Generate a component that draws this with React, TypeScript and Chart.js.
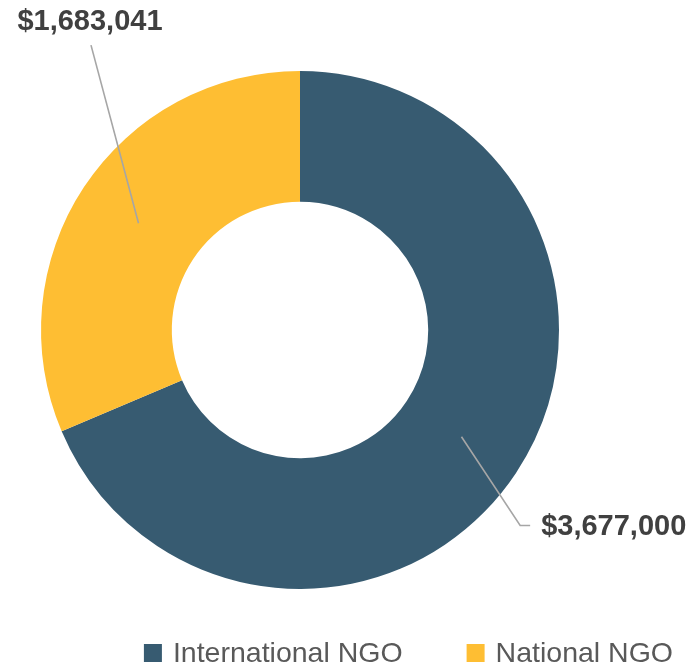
import React, { useEffect, useRef } from "react";
import { Chart, registerables } from "chart.js";

Chart.register(...registerables);

const categories = ["International NGO", "National NGO"];
const values = [3677000, 1683041];
const valueLabels = ["$3,677,000", "$1,683,041"];
const colors = ["#375B71", "#FEBE33"];

const LABEL_FONT = "bold 29px 'Liberation Sans', Arial, sans-serif";
const LEGEND_FONT = "28.5px 'Liberation Sans', Arial, sans-serif";

const leaderPlugin = {
  id: "leaderLabels",
  afterDatasetsDraw(chart: any) {
    const ctx = chart.ctx;
    const meta = chart.getDatasetMeta(0);
    ctx.save();
    meta.data.forEach((arc: any, i: number) => {
      const p = arc.getProps(["x", "y", "startAngle", "endAngle", "innerRadius", "outerRadius"], true);
      const mid = (p.startAngle + p.endAngle) / 2;
      const r = (p.innerRadius + p.outerRadius) / 2;
      const sx = p.x + Math.cos(mid) * r;
      const sy = p.y + Math.sin(mid) * r;
      const R = p.outerRadius;
      ctx.strokeStyle = "#A6A6A6";
      ctx.lineWidth = 1.6;
      ctx.fillStyle = "#404040";
      ctx.font = LABEL_FONT;
      ctx.textBaseline = "middle";
      if (i === 0) {
        const ex = p.x + R * 0.85;
        const ey = p.y + R * 0.755;
        ctx.beginPath();
        ctx.moveTo(sx, sy);
        ctx.lineTo(ex, ey);
        ctx.lineTo(ex + 10, ey);
        ctx.stroke();
        ctx.textAlign = "left";
        ctx.fillText(valueLabels[i], ex + 21, ey + 1);
      } else {
        const ex = p.x - R * 0.807;
        const ey = p.y - R * 1.1;
        ctx.beginPath();
        ctx.moveTo(sx, sy);
        ctx.lineTo(ex, ey);
        ctx.stroke();
        ctx.textAlign = "center";
        ctx.fillText(valueLabels[i], ex - 1, ey - 23);
      }
    });
    ctx.restore();
  },
};

const legendPlugin = {
  id: "customLegend",
  afterDraw(chart: any) {
    const ctx = chart.ctx;
    ctx.save();
    ctx.font = LEGEND_FONT;
    const box = 18;
    const gap = 11;
    const itemGap = 64;
    const labels: string[] = chart.data.labels;
    const bg: string[] = chart.data.datasets[0].backgroundColor;
    const widths = labels.map((l) => ctx.measureText(l).width);
    const total = widths.reduce((a, w) => a + box + gap + w, 0) + itemGap * (labels.length - 1);
    let x = chart.width - 16 - total;
    const cy = chart.height - 11;
    labels.forEach((l, i) => {
      ctx.fillStyle = bg[i];
      ctx.fillRect(x, cy - 9, box, 18);
      ctx.fillStyle = "#595959";
      ctx.textAlign = "left";
      ctx.textBaseline = "middle";
      ctx.fillText(l, x + box + gap, cy + 1);
      x += box + gap + widths[i] + itemGap;
    });
    ctx.restore();
  },
};

export default function App() {
  const ref = useRef<HTMLCanvasElement>(null);
  useEffect(() => {
    if (!ref.current) return;
    const chart = new Chart(ref.current, {
      type: "doughnut",
      data: {
        labels: categories,
        datasets: [
          {
            data: values,
            backgroundColor: colors,
            borderWidth: 0,
          },
        ],
      },
      options: {
        animation: false,
        responsive: true,
        maintainAspectRatio: false,
        cutout: "49.5%",
        layout: { padding: { top: 71, bottom: 75, left: 41, right: 130 } },
        plugins: {
          legend: { display: false },
          tooltip: { enabled: false },
        },
      },
      plugins: [leaderPlugin, legendPlugin],
    });
    return () => chart.destroy();
  }, []);
  return (
    <div style={{ position: "absolute", left: 0, top: 0, width: 689, height: 664, background: "#fff" }}>
      <canvas ref={ref} />
    </div>
  );
}
